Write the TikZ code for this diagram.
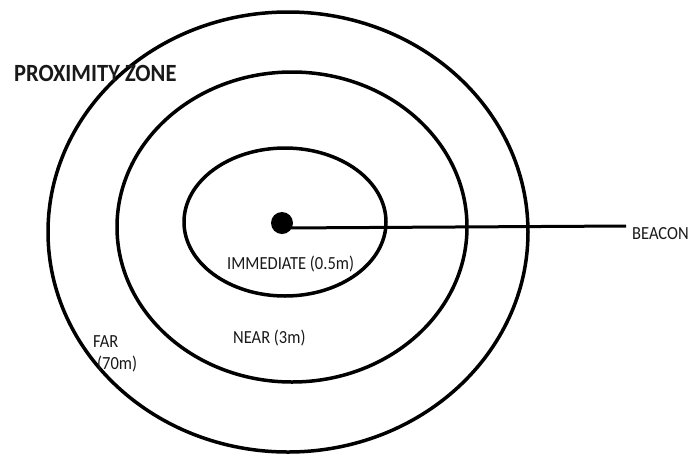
\documentclass[tikz,border=0pt]{standalone}
\usepackage{fontspec}
\setmainfont{Carlito}
\usetikzlibrary{calc}
\begin{document}
\begin{tikzpicture}[x=1pt,y=-1pt,
  zone/.style={line width=3.5pt,draw=black},
  lbl/.style={font=\fontsize{16.5}{19}\selectfont,inner sep=0pt,anchor=west,text=black!90,yscale=1.12,transform shape},
  title/.style={font=\fontsize{22.5}{26}\selectfont\bfseries,inner sep=0pt,anchor=west,text=black!90,yscale=1.1,transform shape}]
\useasboundingbox (0,0) rectangle (691,459);
\draw[zone] (288,232) ellipse [x radius=240,y radius=220];
\draw[zone] (292,227) ellipse [x radius=175,y radius=155];
\draw[zone] (285,222) ellipse [x radius=101,y radius=74];
\node[circle,fill=black,minimum size=22pt,inner sep=0pt] (dot) at (282,223) {};
\node[lbl] (beacon) at (632,234) {BEACON};
\coordinate (lineend) at ($(beacon.west)+(-6,-8)$);
\draw[line width=3pt] ($(dot.center)+(0,5)$) -- (lineend);
\node[title] (pz) at (14,73) {PROXIMITY ZONE};
\node[lbl] (imm) at (227,264) {IMMEDIATE (0.5m)};
\node[lbl] (near) at (233,338) {NEAR (3m)};
\node[lbl] (far) at (93,342) {FAR};
\node[lbl] (farm) at (97,364) {(70m)};
\end{tikzpicture}
\end{document}
